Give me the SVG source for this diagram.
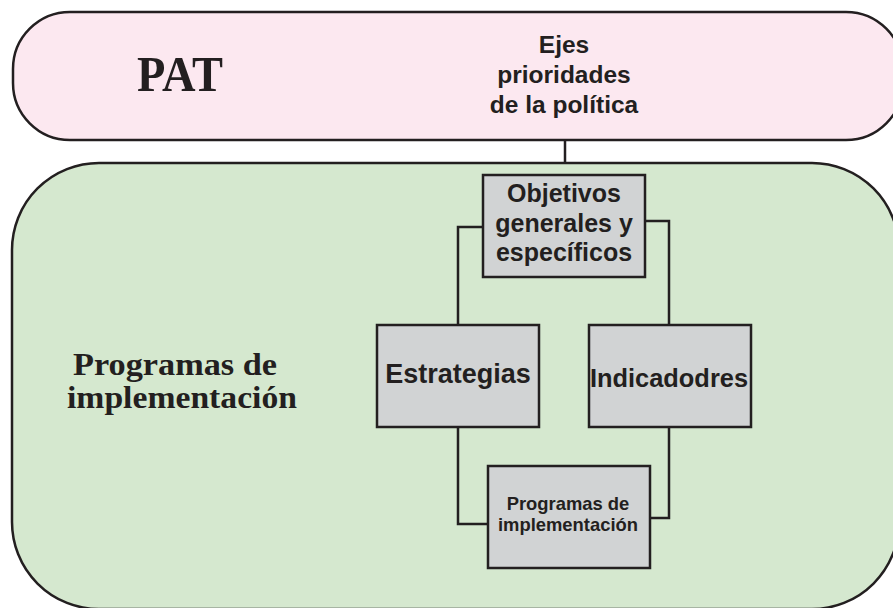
<svg xmlns="http://www.w3.org/2000/svg" width="893" height="608" viewBox="0 0 893 608">
<style>
.outline{stroke:#231f20;stroke-width:2.5}
.box{fill:#d1d3d4;stroke:#231f20;stroke-width:2.5}
.conn{fill:none;stroke:#231f20;stroke-width:2.5}
.sans{font-family:"Liberation Sans",Arial,sans-serif;font-weight:bold;fill:#231f20;text-anchor:middle}
.serif{font-family:"Liberation Serif","Times New Roman",serif;font-weight:bold;fill:#231f20}
</style>
<rect width="893" height="608" fill="#ffffff"/>
<g id="pat">
<rect class="outline" x="13" y="12" width="890" height="128" rx="57" ry="57" fill="#fce8f0"/>
<text class="serif" x="137" y="91" font-size="50" textLength="86" lengthAdjust="spacingAndGlyphs">PAT</text>
<text class="sans" font-size="24.5"><tspan x="564" y="53">Ejes</tspan><tspan x="564" y="83">prioridades</tspan><tspan x="564" y="113">de la política</tspan></text>
</g>
<g id="programas-area">
<rect class="outline" x="12" y="163" width="887" height="446" rx="87" ry="87" fill="#d5e8cf"/>
<text class="serif" x="73" y="375" font-size="32" textLength="204" lengthAdjust="spacingAndGlyphs">Programas de</text>
<text class="serif" x="67" y="408" font-size="32" textLength="230" lengthAdjust="spacingAndGlyphs">implementación</text>
</g>
<g id="connectors">
<line class="conn" x1="565" y1="140" x2="565" y2="163"/>
<polyline class="conn" points="483,227 458,227 458,325"/>
<polyline class="conn" points="645,221 669,221 669,325"/>
<polyline class="conn" points="458,427 458,524 488,524"/>
<polyline class="conn" points="669,427 669,518 650,518"/>
</g>
<g id="objetivos">
<rect class="box" x="483" y="175" width="162" height="102"/>
<text class="sans" font-size="25"><tspan x="564" y="202">Objetivos</tspan><tspan x="564" y="232">generales y</tspan><tspan x="564" y="261">específicos</tspan></text>
</g>
<g id="estrategias">
<rect class="box" x="377" y="325" width="162" height="102"/>
<text class="sans" x="458" y="383" font-size="27">Estrategias</text>
</g>
<g id="indicadores">
<rect class="box" x="589" y="325" width="162" height="102"/>
<text class="sans" x="669" y="387" font-size="25.4">Indicadodres</text>
</g>
<g id="programas">
<rect class="box" x="488" y="466" width="162" height="102"/>
<text class="sans" font-size="18.4"><tspan x="568" y="510">Programas de</tspan><tspan x="568" y="531">implementación</tspan></text>
</g>
</svg>
